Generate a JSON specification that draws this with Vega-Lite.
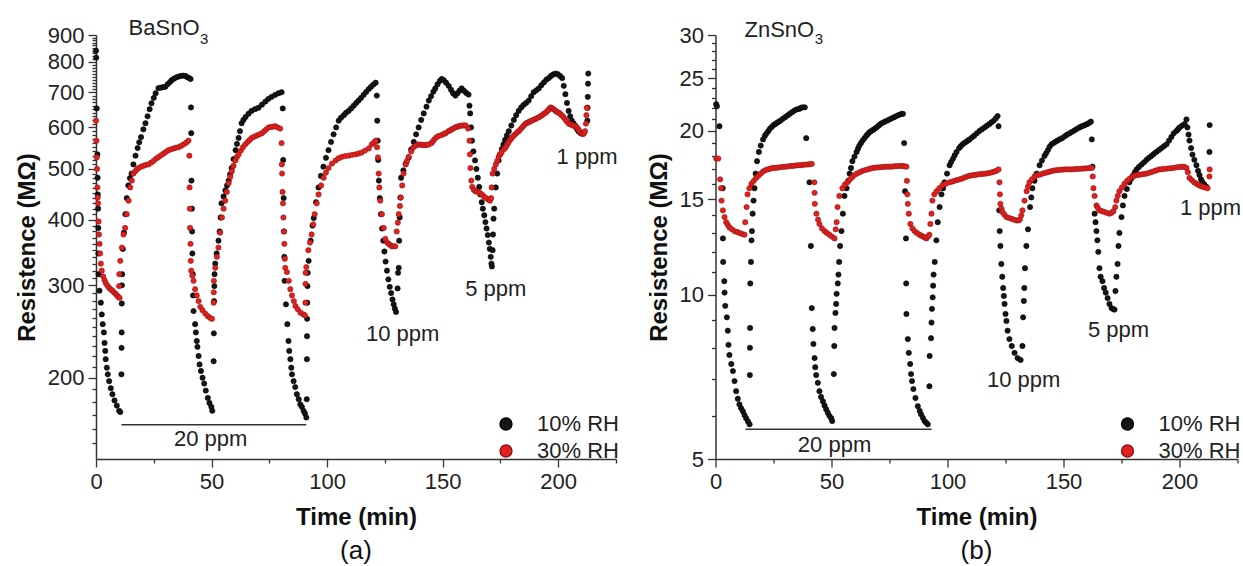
{
"$schema": "https://vega.github.io/schema/vega-lite/v6.json",
"background": "white",
"padding": {"left": 15, "top": 16, "right": 0, "bottom": 0},
"bounds": "flush",
"spacing": 99.5,
"datasets": {
"a": [
{"t":0,"r":840,"g":"10% RH"},{"t":0.1,"r":815,"g":"10% RH"},{"t":0.3,"r":652,"g":"10% RH"},{"t":0.6,"r":533,"g":"10% RH"},{"t":0.7,"r":481,"g":"10% RH"},{"t":0.8,"r":447,"g":"10% RH"},{"t":0.9,"r":420,"g":"10% RH"},{"t":1,"r":386,"g":"10% RH"},{"t":1.05,"r":345,"g":"10% RH"},{"t":1.1,"r":315,"g":"10% RH"},{"t":1.5,"r":293,"g":"10% RH"},{"t":2.1,"r":278,"g":"10% RH"},{"t":2.5,"r":264,"g":"10% RH"},{"t":2.9,"r":253,"g":"10% RH"},{"t":3.4,"r":244,"g":"10% RH"},{"t":3.7,"r":233,"g":"10% RH"},{"t":4,"r":225,"g":"10% RH"},{"t":4.2,"r":217,"g":"10% RH"},{"t":4.7,"r":209,"g":"10% RH"},{"t":5.1,"r":203,"g":"10% RH"},{"t":5.7,"r":197,"g":"10% RH"},{"t":6.4,"r":191,"g":"10% RH"},{"t":7.1,"r":186,"g":"10% RH"},{"t":8,"r":181,"g":"10% RH"},{"t":9,"r":177,"g":"10% RH"},{"t":10,"r":173,"g":"10% RH"},{"t":10.5,"r":172,"g":"10% RH"},
{"t":11,"r":203,"g":"10% RH"},{"t":11.05,"r":228,"g":"10% RH"},{"t":11.1,"r":244,"g":"10% RH"},{"t":11.15,"r":277,"g":"10% RH"},{"t":11.2,"r":300,"g":"10% RH"},{"t":11.3,"r":315,"g":"10% RH"},{"t":11.6,"r":352,"g":"10% RH"},{"t":12.1,"r":378,"g":"10% RH"},{"t":12.7,"r":410,"g":"10% RH"},{"t":13.3,"r":440,"g":"10% RH"},{"t":14,"r":465,"g":"10% RH"},{"t":14.7,"r":480,"g":"10% RH"},{"t":15.4,"r":490,"g":"10% RH"},{"t":16.2,"r":510,"g":"10% RH"},{"t":17.1,"r":530,"g":"10% RH"},{"t":18,"r":548,"g":"10% RH"},{"t":18.7,"r":562,"g":"10% RH"},{"t":19.5,"r":575,"g":"10% RH"},{"t":20.5,"r":595,"g":"10% RH"},{"t":21.4,"r":611,"g":"10% RH"},{"t":22.3,"r":630,"g":"10% RH"},{"t":23.2,"r":650,"g":"10% RH"},{"t":24,"r":667,"g":"10% RH"},{"t":25,"r":683,"g":"10% RH"},{"t":25.8,"r":697,"g":"10% RH"},{"t":27,"r":713,"g":"10% RH"},{"t":28,"r":714,"g":"10% RH"},{"t":29,"r":716,"g":"10% RH"},{"t":30,"r":717,"g":"10% RH"},{"t":31,"r":725,"g":"10% RH"},{"t":32,"r":732,"g":"10% RH"},{"t":32.7,"r":738,"g":"10% RH"},{"t":33.7,"r":743,"g":"10% RH"},{"t":34.7,"r":747,"g":"10% RH"},{"t":35.7,"r":750,"g":"10% RH"},{"t":36.7,"r":752,"g":"10% RH"},{"t":37.7,"r":753,"g":"10% RH"},{"t":38.7,"r":752,"g":"10% RH"},{"t":39.5,"r":748,"g":"10% RH"},{"t":40.3,"r":745,"g":"10% RH"},{"t":40.9,"r":742,"g":"10% RH"},
{"t":41.1,"r":655,"g":"10% RH"},{"t":41.2,"r":585,"g":"10% RH"},{"t":41.3,"r":475,"g":"10% RH"},{"t":41.5,"r":420,"g":"10% RH"},{"t":41.6,"r":380,"g":"10% RH"},{"t":41.7,"r":345,"g":"10% RH"},{"t":41.9,"r":315,"g":"10% RH"},{"t":42,"r":287,"g":"10% RH"},{"t":42.2,"r":268,"g":"10% RH"},{"t":42.9,"r":253,"g":"10% RH"},{"t":43.2,"r":244,"g":"10% RH"},{"t":43.6,"r":235,"g":"10% RH"},{"t":43.9,"r":229,"g":"10% RH"},{"t":44.4,"r":220,"g":"10% RH"},{"t":44.8,"r":212,"g":"10% RH"},{"t":45.4,"r":206,"g":"10% RH"},{"t":46.1,"r":200,"g":"10% RH"},{"t":46.8,"r":195,"g":"10% RH"},{"t":47.5,"r":189,"g":"10% RH"},{"t":48.4,"r":183,"g":"10% RH"},{"t":49.1,"r":179,"g":"10% RH"},{"t":49.9,"r":176,"g":"10% RH"},{"t":50.3,"r":173,"g":"10% RH"},
{"t":50.9,"r":215,"g":"10% RH"},{"t":51,"r":243,"g":"10% RH"},{"t":51.1,"r":280,"g":"10% RH"},{"t":51.2,"r":299,"g":"10% RH"},{"t":51.3,"r":315,"g":"10% RH"},{"t":51.6,"r":330,"g":"10% RH"},{"t":52.2,"r":345,"g":"10% RH"},{"t":53,"r":365,"g":"10% RH"},{"t":53.5,"r":380,"g":"10% RH"},{"t":53.9,"r":404,"g":"10% RH"},{"t":54.3,"r":430,"g":"10% RH"},{"t":55.2,"r":443,"g":"10% RH"},{"t":56,"r":455,"g":"10% RH"},{"t":56.7,"r":465,"g":"10% RH"},{"t":57.4,"r":475,"g":"10% RH"},{"t":58,"r":488,"g":"10% RH"},{"t":58.7,"r":502,"g":"10% RH"},{"t":59.5,"r":522,"g":"10% RH"},{"t":60.4,"r":543,"g":"10% RH"},{"t":61,"r":558,"g":"10% RH"},{"t":61.7,"r":573,"g":"10% RH"},{"t":62.3,"r":590,"g":"10% RH"},{"t":63,"r":611,"g":"10% RH"},{"t":63.8,"r":620,"g":"10% RH"},{"t":64.7,"r":628,"g":"10% RH"},{"t":66,"r":637,"g":"10% RH"},{"t":67.3,"r":645,"g":"10% RH"},{"t":68.8,"r":650,"g":"10% RH"},{"t":70.3,"r":654,"g":"10% RH"},{"t":71.8,"r":663,"g":"10% RH"},{"t":73.3,"r":672,"g":"10% RH"},{"t":74.6,"r":680,"g":"10% RH"},{"t":76,"r":686,"g":"10% RH"},{"t":77.5,"r":692,"g":"10% RH"},{"t":79,"r":697,"g":"10% RH"},{"t":80.3,"r":700,"g":"10% RH"},
{"t":80.8,"r":652,"g":"10% RH"},{"t":81,"r":520,"g":"10% RH"},{"t":81.2,"r":440,"g":"10% RH"},{"t":81.35,"r":380,"g":"10% RH"},{"t":81.5,"r":340,"g":"10% RH"},{"t":81.6,"r":306,"g":"10% RH"},{"t":82.2,"r":276,"g":"10% RH"},{"t":82.8,"r":253,"g":"10% RH"},{"t":83.3,"r":235,"g":"10% RH"},{"t":83.6,"r":225,"g":"10% RH"},{"t":84.1,"r":217,"g":"10% RH"},{"t":84.5,"r":209,"g":"10% RH"},{"t":84.8,"r":203,"g":"10% RH"},{"t":85.5,"r":197,"g":"10% RH"},{"t":86.2,"r":192,"g":"10% RH"},{"t":86.9,"r":186,"g":"10% RH"},{"t":87.7,"r":182,"g":"10% RH"},{"t":88.4,"r":178,"g":"10% RH"},{"t":89.1,"r":176,"g":"10% RH"},{"t":89.8,"r":173,"g":"10% RH"},{"t":90.4,"r":171,"g":"10% RH"},{"t":91,"r":168,"g":"10% RH"},
{"t":91.2,"r":182,"g":"10% RH"},{"t":91.25,"r":217,"g":"10% RH"},{"t":91.3,"r":240,"g":"10% RH"},{"t":91.35,"r":259,"g":"10% RH"},{"t":91.4,"r":278,"g":"10% RH"},{"t":91.5,"r":299,"g":"10% RH"},{"t":91.6,"r":317,"g":"10% RH"},{"t":92,"r":334,"g":"10% RH"},{"t":92.9,"r":365,"g":"10% RH"},{"t":93.7,"r":390,"g":"10% RH"},{"t":94.2,"r":403,"g":"10% RH"},{"t":95.2,"r":432,"g":"10% RH"},{"t":96.3,"r":461,"g":"10% RH"},{"t":97.3,"r":485,"g":"10% RH"},{"t":98.4,"r":505,"g":"10% RH"},{"t":99.5,"r":525,"g":"10% RH"},{"t":100.6,"r":543,"g":"10% RH"},{"t":101.7,"r":563,"g":"10% RH"},{"t":102.8,"r":582,"g":"10% RH"},{"t":103.9,"r":600,"g":"10% RH"},{"t":105,"r":618,"g":"10% RH"},{"t":106,"r":626,"g":"10% RH"},{"t":107.2,"r":633,"g":"10% RH"},{"t":108.2,"r":640,"g":"10% RH"},{"t":109.3,"r":645,"g":"10% RH"},{"t":110.4,"r":652,"g":"10% RH"},{"t":111.5,"r":660,"g":"10% RH"},{"t":112.6,"r":668,"g":"10% RH"},{"t":113.6,"r":675,"g":"10% RH"},{"t":114.7,"r":683,"g":"10% RH"},{"t":115.8,"r":692,"g":"10% RH"},{"t":116.9,"r":701,"g":"10% RH"},{"t":118,"r":710,"g":"10% RH"},{"t":119,"r":717,"g":"10% RH"},{"t":120,"r":724,"g":"10% RH"},{"t":121,"r":730,"g":"10% RH"},
{"t":121.5,"r":690,"g":"10% RH"},{"t":121.7,"r":618,"g":"10% RH"},{"t":121.9,"r":566,"g":"10% RH"},{"t":122.1,"r":520,"g":"10% RH"},{"t":122.4,"r":475,"g":"10% RH"},{"t":122.8,"r":440,"g":"10% RH"},{"t":123.3,"r":410,"g":"10% RH"},{"t":123.8,"r":385,"g":"10% RH"},{"t":124.3,"r":365,"g":"10% RH"},{"t":124.8,"r":348,"g":"10% RH"},{"t":125.3,"r":333,"g":"10% RH"},{"t":125.9,"r":320,"g":"10% RH"},{"t":126.5,"r":308,"g":"10% RH"},{"t":127.1,"r":298,"g":"10% RH"},{"t":127.7,"r":290,"g":"10% RH"},{"t":128.3,"r":282,"g":"10% RH"},{"t":128.8,"r":276,"g":"10% RH"},{"t":129.3,"r":271,"g":"10% RH"},{"t":129.8,"r":267,"g":"10% RH"},
{"t":130.5,"r":296,"g":"10% RH"},{"t":130.7,"r":317,"g":"10% RH"},{"t":131,"r":324,"g":"10% RH"},{"t":131.2,"r":365,"g":"10% RH"},{"t":131.4,"r":404,"g":"10% RH"},{"t":131.7,"r":441,"g":"10% RH"},{"t":132,"r":481,"g":"10% RH"},{"t":133,"r":497,"g":"10% RH"},{"t":134,"r":512,"g":"10% RH"},{"t":135.3,"r":526,"g":"10% RH"},{"t":136.4,"r":545,"g":"10% RH"},{"t":137.5,"r":563,"g":"10% RH"},{"t":138.5,"r":582,"g":"10% RH"},{"t":139.6,"r":600,"g":"10% RH"},{"t":140.7,"r":620,"g":"10% RH"},{"t":141.8,"r":638,"g":"10% RH"},{"t":143,"r":657,"g":"10% RH"},{"t":144,"r":675,"g":"10% RH"},{"t":145,"r":688,"g":"10% RH"},{"t":146,"r":702,"g":"10% RH"},{"t":146.8,"r":712,"g":"10% RH"},{"t":147.8,"r":725,"g":"10% RH"},{"t":148.8,"r":736,"g":"10% RH"},{"t":149.6,"r":742,"g":"10% RH"},{"t":150.5,"r":738,"g":"10% RH"},{"t":151.5,"r":730,"g":"10% RH"},{"t":152.6,"r":720,"g":"10% RH"},{"t":153.6,"r":708,"g":"10% RH"},{"t":154.5,"r":697,"g":"10% RH"},{"t":155.5,"r":690,"g":"10% RH"},{"t":156.4,"r":697,"g":"10% RH"},{"t":157.3,"r":705,"g":"10% RH"},{"t":158.2,"r":712,"g":"10% RH"},{"t":159.2,"r":705,"g":"10% RH"},{"t":160.2,"r":698,"g":"10% RH"},{"t":161.2,"r":693,"g":"10% RH"},
{"t":161.6,"r":660,"g":"10% RH"},{"t":161.9,"r":638,"g":"10% RH"},{"t":162.3,"r":600,"g":"10% RH"},{"t":162.7,"r":566,"g":"10% RH"},{"t":163.3,"r":540,"g":"10% RH"},{"t":164,"r":519,"g":"10% RH"},{"t":164.6,"r":500,"g":"10% RH"},{"t":165.2,"r":481,"g":"10% RH"},{"t":165.8,"r":462,"g":"10% RH"},{"t":166.3,"r":447,"g":"10% RH"},{"t":166.9,"r":432,"g":"10% RH"},{"t":167.4,"r":420,"g":"10% RH"},{"t":168,"r":408,"g":"10% RH"},{"t":168.5,"r":396,"g":"10% RH"},{"t":169,"r":385,"g":"10% RH"},{"t":169.5,"r":374,"g":"10% RH"},{"t":170,"r":362,"g":"10% RH"},{"t":170.4,"r":352,"g":"10% RH"},{"t":170.8,"r":340,"g":"10% RH"},{"t":171.1,"r":330,"g":"10% RH"},{"t":171.3,"r":326,"g":"10% RH"},
{"t":171.6,"r":350,"g":"10% RH"},{"t":171.8,"r":375,"g":"10% RH"},{"t":172,"r":402,"g":"10% RH"},{"t":172.3,"r":420,"g":"10% RH"},{"t":173,"r":461,"g":"10% RH"},{"t":173.6,"r":490,"g":"10% RH"},{"t":174.2,"r":519,"g":"10% RH"},{"t":174.9,"r":533,"g":"10% RH"},{"t":175.6,"r":546,"g":"10% RH"},{"t":176.3,"r":557,"g":"10% RH"},{"t":177,"r":568,"g":"10% RH"},{"t":177.8,"r":579,"g":"10% RH"},{"t":178.6,"r":590,"g":"10% RH"},{"t":179.7,"r":605,"g":"10% RH"},{"t":180.8,"r":620,"g":"10% RH"},{"t":181.8,"r":633,"g":"10% RH"},{"t":182.9,"r":645,"g":"10% RH"},{"t":184,"r":655,"g":"10% RH"},{"t":185,"r":662,"g":"10% RH"},{"t":186.1,"r":668,"g":"10% RH"},{"t":187.2,"r":675,"g":"10% RH"},{"t":188.3,"r":688,"g":"10% RH"},{"t":189.4,"r":700,"g":"10% RH"},{"t":190.5,"r":706,"g":"10% RH"},{"t":191.6,"r":712,"g":"10% RH"},{"t":192.7,"r":722,"g":"10% RH"},{"t":193.8,"r":731,"g":"10% RH"},{"t":194.9,"r":740,"g":"10% RH"},{"t":195.9,"r":745,"g":"10% RH"},{"t":196.9,"r":752,"g":"10% RH"},{"t":197.8,"r":757,"g":"10% RH"},{"t":198.8,"r":760,"g":"10% RH"},{"t":199.8,"r":758,"g":"10% RH"},{"t":200.8,"r":752,"g":"10% RH"},{"t":201.7,"r":745,"g":"10% RH"},{"t":202.4,"r":720,"g":"10% RH"},{"t":203.1,"r":694,"g":"10% RH"},{"t":203.8,"r":668,"g":"10% RH"},{"t":204.5,"r":645,"g":"10% RH"},{"t":205.2,"r":630,"g":"10% RH"},{"t":205.9,"r":618,"g":"10% RH"},{"t":206.6,"r":611,"g":"10% RH"},{"t":207.3,"r":605,"g":"10% RH"},{"t":208,"r":597,"g":"10% RH"},{"t":208.7,"r":590,"g":"10% RH"},{"t":209.4,"r":587,"g":"10% RH"},{"t":210,"r":585,"g":"10% RH"},{"t":210.8,"r":584,"g":"10% RH"},{"t":212.6,"r":618,"g":"10% RH"},{"t":212.7,"r":654,"g":"10% RH"},{"t":212.8,"r":686,"g":"10% RH"},{"t":212.9,"r":727,"g":"10% RH"},{"t":213,"r":760,"g":"10% RH"},
{"t":0,"r":618,"g":"30% RH"},{"t":0.15,"r":566,"g":"30% RH"},{"t":0.3,"r":526,"g":"30% RH"},{"t":0.45,"r":500,"g":"30% RH"},{"t":0.6,"r":461,"g":"30% RH"},{"t":0.75,"r":441,"g":"30% RH"},{"t":0.9,"r":430,"g":"30% RH"},{"t":1.1,"r":397,"g":"30% RH"},{"t":1.3,"r":375,"g":"30% RH"},{"t":1.55,"r":360,"g":"30% RH"},{"t":1.8,"r":345,"g":"30% RH"},{"t":2.1,"r":330,"g":"30% RH"},{"t":2.5,"r":320,"g":"30% RH"},{"t":3.1,"r":312,"g":"30% RH"},{"t":3.7,"r":307,"g":"30% RH"},{"t":4.2,"r":303,"g":"30% RH"},{"t":4.9,"r":300,"g":"30% RH"},{"t":5.6,"r":297,"g":"30% RH"},{"t":6.3,"r":295,"g":"30% RH"},{"t":7.1,"r":293,"g":"30% RH"},{"t":7.8,"r":291,"g":"30% RH"},{"t":8.5,"r":289,"g":"30% RH"},{"t":9.1,"r":287,"g":"30% RH"},{"t":9.7,"r":285,"g":"30% RH"},{"t":10.2,"r":284,"g":"30% RH"},
{"t":10,"r":299,"g":"30% RH"},{"t":10.1,"r":315,"g":"30% RH"},{"t":10.5,"r":334,"g":"30% RH"},{"t":11.2,"r":354,"g":"30% RH"},{"t":11.9,"r":375,"g":"30% RH"},{"t":12.6,"r":386,"g":"30% RH"},{"t":13.3,"r":410,"g":"30% RH"},{"t":14.1,"r":435,"g":"30% RH"},{"t":14.8,"r":461,"g":"30% RH"},{"t":15.5,"r":475,"g":"30% RH"},{"t":16.2,"r":490,"g":"30% RH"},{"t":17,"r":495,"g":"30% RH"},{"t":17.7,"r":499,"g":"30% RH"},{"t":18.4,"r":502,"g":"30% RH"},{"t":19.5,"r":505,"g":"30% RH"},{"t":20.6,"r":507,"g":"30% RH"},{"t":21.6,"r":509,"g":"30% RH"},{"t":22.7,"r":510,"g":"30% RH"},{"t":23.8,"r":514,"g":"30% RH"},{"t":24.9,"r":518,"g":"30% RH"},{"t":26,"r":523,"g":"30% RH"},{"t":27.1,"r":527,"g":"30% RH"},{"t":28.2,"r":531,"g":"30% RH"},{"t":29.3,"r":535,"g":"30% RH"},{"t":30.3,"r":539,"g":"30% RH"},{"t":31.4,"r":543,"g":"30% RH"},{"t":32.5,"r":545,"g":"30% RH"},{"t":33.6,"r":547,"g":"30% RH"},{"t":34.6,"r":549,"g":"30% RH"},{"t":35.7,"r":550,"g":"30% RH"},{"t":36.8,"r":553,"g":"30% RH"},{"t":37.9,"r":557,"g":"30% RH"},{"t":39,"r":561,"g":"30% RH"},{"t":40,"r":566,"g":"30% RH"},
{"t":40.4,"r":530,"g":"30% RH"},{"t":40.5,"r":461,"g":"30% RH"},{"t":40.6,"r":420,"g":"30% RH"},{"t":40.7,"r":386,"g":"30% RH"},{"t":40.9,"r":360,"g":"30% RH"},{"t":41,"r":334,"g":"30% RH"},{"t":41.2,"r":320,"g":"30% RH"},{"t":41.7,"r":313,"g":"30% RH"},{"t":42.2,"r":306,"g":"30% RH"},{"t":42.9,"r":295,"g":"30% RH"},{"t":43.6,"r":287,"g":"30% RH"},{"t":44.4,"r":280,"g":"30% RH"},{"t":45.1,"r":273,"g":"30% RH"},{"t":46.1,"r":269,"g":"30% RH"},{"t":47.3,"r":265,"g":"30% RH"},{"t":48.4,"r":262,"g":"30% RH"},{"t":49.4,"r":260,"g":"30% RH"},{"t":50.2,"r":259,"g":"30% RH"},
{"t":50.9,"r":278,"g":"30% RH"},{"t":50.95,"r":291,"g":"30% RH"},{"t":51,"r":306,"g":"30% RH"},{"t":51.6,"r":324,"g":"30% RH"},{"t":52.3,"r":340,"g":"30% RH"},{"t":53,"r":354,"g":"30% RH"},{"t":53.7,"r":378,"g":"30% RH"},{"t":54.5,"r":404,"g":"30% RH"},{"t":55.2,"r":420,"g":"30% RH"},{"t":55.9,"r":435,"g":"30% RH"},{"t":56.6,"r":452,"g":"30% RH"},{"t":57.4,"r":470,"g":"30% RH"},{"t":58.1,"r":483,"g":"30% RH"},{"t":58.8,"r":495,"g":"30% RH"},{"t":59.5,"r":507,"g":"30% RH"},{"t":60.3,"r":519,"g":"30% RH"},{"t":61,"r":527,"g":"30% RH"},{"t":61.7,"r":533,"g":"30% RH"},{"t":62.7,"r":542,"g":"30% RH"},{"t":63.6,"r":550,"g":"30% RH"},{"t":64.6,"r":557,"g":"30% RH"},{"t":65.6,"r":563,"g":"30% RH"},{"t":66.5,"r":568,"g":"30% RH"},{"t":67.4,"r":573,"g":"30% RH"},{"t":68.5,"r":576,"g":"30% RH"},{"t":69.6,"r":579,"g":"30% RH"},{"t":70.7,"r":582,"g":"30% RH"},{"t":71.8,"r":585,"g":"30% RH"},{"t":72.8,"r":590,"g":"30% RH"},{"t":73.7,"r":595,"g":"30% RH"},{"t":74.7,"r":600,"g":"30% RH"},{"t":75.7,"r":601,"g":"30% RH"},{"t":76.6,"r":602,"g":"30% RH"},{"t":77.6,"r":603,"g":"30% RH"},{"t":78.6,"r":600,"g":"30% RH"},{"t":79.7,"r":597,"g":"30% RH"},
{"t":80.3,"r":560,"g":"30% RH"},{"t":80.4,"r":510,"g":"30% RH"},{"t":80.5,"r":490,"g":"30% RH"},{"t":80.7,"r":452,"g":"30% RH"},{"t":80.9,"r":430,"g":"30% RH"},{"t":81.1,"r":404,"g":"30% RH"},{"t":81.3,"r":380,"g":"30% RH"},{"t":81.5,"r":360,"g":"30% RH"},{"t":81.7,"r":337,"g":"30% RH"},{"t":81.9,"r":324,"g":"30% RH"},{"t":82.6,"r":318,"g":"30% RH"},{"t":83.4,"r":306,"g":"30% RH"},{"t":84.1,"r":295,"g":"30% RH"},{"t":84.8,"r":287,"g":"30% RH"},{"t":85.6,"r":280,"g":"30% RH"},{"t":86.3,"r":274,"g":"30% RH"},{"t":87.3,"r":270,"g":"30% RH"},{"t":88.5,"r":266,"g":"30% RH"},{"t":89.8,"r":264,"g":"30% RH"},{"t":90.4,"r":263,"g":"30% RH"},
{"t":90.6,"r":278,"g":"30% RH"},{"t":90.65,"r":302,"g":"30% RH"},{"t":90.7,"r":317,"g":"30% RH"},{"t":91,"r":325,"g":"30% RH"},{"t":91.9,"r":350,"g":"30% RH"},{"t":92.6,"r":362,"g":"30% RH"},{"t":93.3,"r":375,"g":"30% RH"},{"t":94,"r":392,"g":"30% RH"},{"t":94.6,"r":410,"g":"30% RH"},{"t":95.5,"r":430,"g":"30% RH"},{"t":96.3,"r":447,"g":"30% RH"},{"t":97.4,"r":465,"g":"30% RH"},{"t":98.5,"r":481,"g":"30% RH"},{"t":99.5,"r":492,"g":"30% RH"},{"t":100.6,"r":502,"g":"30% RH"},{"t":102.1,"r":512,"g":"30% RH"},{"t":103.7,"r":519,"g":"30% RH"},{"t":105,"r":524,"g":"30% RH"},{"t":106.3,"r":527,"g":"30% RH"},{"t":107.8,"r":529,"g":"30% RH"},{"t":109.3,"r":530,"g":"30% RH"},{"t":110.8,"r":532,"g":"30% RH"},{"t":112.3,"r":533,"g":"30% RH"},{"t":113.6,"r":535,"g":"30% RH"},{"t":114.9,"r":537,"g":"30% RH"},{"t":116.4,"r":542,"g":"30% RH"},{"t":118,"r":547,"g":"30% RH"},{"t":119.3,"r":557,"g":"30% RH"},{"t":120.3,"r":562,"g":"30% RH"},{"t":121,"r":566,"g":"30% RH"},
{"t":121.6,"r":550,"g":"30% RH"},{"t":122,"r":526,"g":"30% RH"},{"t":122.3,"r":490,"g":"30% RH"},{"t":122.6,"r":461,"g":"30% RH"},{"t":123,"r":435,"g":"30% RH"},{"t":123.7,"r":410,"g":"30% RH"},{"t":124.5,"r":386,"g":"30% RH"},{"t":125.2,"r":368,"g":"30% RH"},{"t":126,"r":362,"g":"30% RH"},{"t":126.6,"r":360,"g":"30% RH"},{"t":127.3,"r":358,"g":"30% RH"},{"t":128,"r":356,"g":"30% RH"},{"t":128.8,"r":356,"g":"30% RH"},{"t":129.5,"r":356,"g":"30% RH"},
{"t":130.1,"r":380,"g":"30% RH"},{"t":130.6,"r":395,"g":"30% RH"},{"t":131,"r":410,"g":"30% RH"},{"t":131.5,"r":425,"g":"30% RH"},{"t":131.9,"r":441,"g":"30% RH"},{"t":132.5,"r":465,"g":"30% RH"},{"t":133.1,"r":490,"g":"30% RH"},{"t":134,"r":510,"g":"30% RH"},{"t":134.6,"r":518,"g":"30% RH"},{"t":135.3,"r":527,"g":"30% RH"},{"t":136.4,"r":540,"g":"30% RH"},{"t":137.4,"r":550,"g":"30% RH"},{"t":138.5,"r":554,"g":"30% RH"},{"t":139.6,"r":557,"g":"30% RH"},{"t":140.3,"r":556,"g":"30% RH"},{"t":141,"r":556,"g":"30% RH"},{"t":141.8,"r":555,"g":"30% RH"},{"t":142.6,"r":555,"g":"30% RH"},{"t":143.3,"r":556,"g":"30% RH"},{"t":144,"r":557,"g":"30% RH"},{"t":145.2,"r":560,"g":"30% RH"},{"t":145.8,"r":565,"g":"30% RH"},{"t":146.5,"r":570,"g":"30% RH"},{"t":147.4,"r":575,"g":"30% RH"},{"t":148.3,"r":578,"g":"30% RH"},{"t":149.5,"r":580,"g":"30% RH"},{"t":150.5,"r":583,"g":"30% RH"},{"t":151.3,"r":585,"g":"30% RH"},{"t":152.5,"r":590,"g":"30% RH"},{"t":153.2,"r":592,"g":"30% RH"},{"t":153.9,"r":595,"g":"30% RH"},{"t":154.6,"r":597,"g":"30% RH"},{"t":155.4,"r":600,"g":"30% RH"},{"t":156.1,"r":601,"g":"30% RH"},{"t":156.9,"r":603,"g":"30% RH"},{"t":157.6,"r":604,"g":"30% RH"},{"t":158.4,"r":605,"g":"30% RH"},{"t":159.2,"r":605,"g":"30% RH"},{"t":160,"r":605,"g":"30% RH"},{"t":161,"r":597,"g":"30% RH"},
{"t":161.6,"r":566,"g":"30% RH"},{"t":161.8,"r":533,"g":"30% RH"},{"t":162,"r":502,"g":"30% RH"},{"t":162.4,"r":475,"g":"30% RH"},{"t":162.8,"r":462,"g":"30% RH"},{"t":163.5,"r":456,"g":"30% RH"},{"t":164.3,"r":453,"g":"30% RH"},{"t":165.2,"r":452,"g":"30% RH"},{"t":166.1,"r":450,"g":"30% RH"},{"t":167,"r":447,"g":"30% RH"},{"t":167.9,"r":443,"g":"30% RH"},{"t":168.8,"r":440,"g":"30% RH"},{"t":169.7,"r":437,"g":"30% RH"},{"t":170.5,"r":435,"g":"30% RH"},
{"t":171,"r":440,"g":"30% RH"},{"t":171.2,"r":461,"g":"30% RH"},{"t":171.6,"r":490,"g":"30% RH"},{"t":172.3,"r":500,"g":"30% RH"},{"t":173,"r":510,"g":"30% RH"},{"t":173.6,"r":518,"g":"30% RH"},{"t":174.2,"r":527,"g":"30% RH"},{"t":174.8,"r":533,"g":"30% RH"},{"t":175.5,"r":538,"g":"30% RH"},{"t":176.5,"r":545,"g":"30% RH"},{"t":177.3,"r":550,"g":"30% RH"},{"t":177.9,"r":556,"g":"30% RH"},{"t":178.5,"r":562,"g":"30% RH"},{"t":179.2,"r":568,"g":"30% RH"},{"t":179.9,"r":573,"g":"30% RH"},{"t":180.6,"r":578,"g":"30% RH"},{"t":181.4,"r":582,"g":"30% RH"},{"t":182.1,"r":586,"g":"30% RH"},{"t":182.9,"r":590,"g":"30% RH"},{"t":183.6,"r":595,"g":"30% RH"},{"t":184.4,"r":600,"g":"30% RH"},{"t":185.1,"r":605,"g":"30% RH"},{"t":185.9,"r":610,"g":"30% RH"},{"t":186.5,"r":612,"g":"30% RH"},{"t":187.2,"r":614,"g":"30% RH"},{"t":187.8,"r":616,"g":"30% RH"},{"t":188.5,"r":618,"g":"30% RH"},{"t":189.2,"r":620,"g":"30% RH"},{"t":190,"r":622,"g":"30% RH"},{"t":190.8,"r":625,"g":"30% RH"},{"t":191.6,"r":627,"g":"30% RH"},{"t":192.3,"r":630,"g":"30% RH"},{"t":193,"r":633,"g":"30% RH"},{"t":193.8,"r":637,"g":"30% RH"},{"t":194.6,"r":640,"g":"30% RH"},{"t":195.2,"r":644,"g":"30% RH"},{"t":195.8,"r":648,"g":"30% RH"},{"t":196.3,"r":652,"g":"30% RH"},{"t":196.8,"r":655,"g":"30% RH"},{"t":197.4,"r":652,"g":"30% RH"},{"t":197.9,"r":650,"g":"30% RH"},{"t":198.4,"r":648,"g":"30% RH"},{"t":198.9,"r":645,"g":"30% RH"},{"t":199.5,"r":642,"g":"30% RH"},{"t":200.2,"r":640,"g":"30% RH"},{"t":200.8,"r":637,"g":"30% RH"},{"t":201.5,"r":633,"g":"30% RH"},{"t":202.2,"r":628,"g":"30% RH"},{"t":203,"r":622,"g":"30% RH"},{"t":203.7,"r":616,"g":"30% RH"},{"t":204.5,"r":610,"g":"30% RH"},{"t":205.2,"r":608,"g":"30% RH"},{"t":206,"r":606,"g":"30% RH"},{"t":206.8,"r":604,"g":"30% RH"},{"t":207.6,"r":603,"g":"30% RH"},{"t":208.2,"r":599,"g":"30% RH"},{"t":208.7,"r":595,"g":"30% RH"},{"t":209.2,"r":590,"g":"30% RH"},{"t":209.7,"r":585,"g":"30% RH"},{"t":210.2,"r":584,"g":"30% RH"},{"t":210.6,"r":583,"g":"30% RH"},{"t":211.1,"r":584,"g":"30% RH"},{"t":211.6,"r":590,"g":"30% RH"},{"t":212,"r":610,"g":"30% RH"},{"t":212.2,"r":633,"g":"30% RH"},{"t":212.4,"r":654,"g":"30% RH"}
],
"b": [
{"t":0.3,"r":22.4,"g":"10% RH"},{"t":0.6,"r":22.2,"g":"10% RH"},{"t":1.7,"r":20.4,"g":"10% RH"},{"t":3.1,"r":15.7,"g":"10% RH"},{"t":3.2,"r":12.7,"g":"10% RH"},{"t":3.3,"r":11.5,"g":"10% RH"},{"t":3.8,"r":10.6,"g":"10% RH"},{"t":3.9,"r":10.1,"g":"10% RH"},{"t":4.2,"r":9.55,"g":"10% RH"},{"t":4.9,"r":9.1,"g":"10% RH"},{"t":5.3,"r":8.6,"g":"10% RH"},{"t":5.6,"r":8.1,"g":"10% RH"},{"t":6,"r":7.76,"g":"10% RH"},{"t":6.8,"r":7.47,"g":"10% RH"},{"t":7.5,"r":7.25,"g":"10% RH"},{"t":8.2,"r":6.95,"g":"10% RH"},{"t":8.9,"r":6.66,"g":"10% RH"},{"t":9.6,"r":6.45,"g":"10% RH"},{"t":10.3,"r":6.3,"g":"10% RH"},{"t":11,"r":6.2,"g":"10% RH"},{"t":11.8,"r":6.12,"g":"10% RH"},{"t":12.5,"r":6.02,"g":"10% RH"},{"t":13.2,"r":5.94,"g":"10% RH"},{"t":14,"r":5.86,"g":"10% RH"},{"t":14.7,"r":5.79,"g":"10% RH"},
{"t":14.8,"r":7.13,"g":"10% RH"},{"t":14.85,"r":8,"g":"10% RH"},{"t":14.9,"r":8.7,"g":"10% RH"},{"t":15,"r":10.5,"g":"10% RH"},{"t":15.3,"r":11.5,"g":"10% RH"},{"t":15.5,"r":12.6,"g":"10% RH"},{"t":15.7,"r":13.1,"g":"10% RH"},{"t":16,"r":14.1,"g":"10% RH"},{"t":16.4,"r":14.9,"g":"10% RH"},{"t":16.8,"r":15.7,"g":"10% RH"},{"t":17.3,"r":16.7,"g":"10% RH"},{"t":17.9,"r":17.6,"g":"10% RH"},{"t":18.7,"r":18.3,"g":"10% RH"},{"t":19.5,"r":18.8,"g":"10% RH"},{"t":20.5,"r":19.3,"g":"10% RH"},{"t":21.3,"r":19.6,"g":"10% RH"},{"t":22,"r":19.8,"g":"10% RH"},{"t":22.8,"r":20,"g":"10% RH"},{"t":23.5,"r":20.2,"g":"10% RH"},{"t":24.3,"r":20.35,"g":"10% RH"},{"t":25,"r":20.5,"g":"10% RH"},{"t":25.8,"r":20.6,"g":"10% RH"},{"t":26.5,"r":20.7,"g":"10% RH"},{"t":27.3,"r":20.8,"g":"10% RH"},{"t":28,"r":20.9,"g":"10% RH"},{"t":29,"r":21.05,"g":"10% RH"},{"t":30,"r":21.2,"g":"10% RH"},{"t":31,"r":21.35,"g":"10% RH"},{"t":32,"r":21.5,"g":"10% RH"},{"t":33,"r":21.65,"g":"10% RH"},{"t":34,"r":21.8,"g":"10% RH"},{"t":35,"r":21.9,"g":"10% RH"},{"t":36,"r":21.95,"g":"10% RH"},{"t":36.8,"r":22.05,"g":"10% RH"},{"t":37.5,"r":22.1,"g":"10% RH"},
{"t":38.5,"r":22.1,"g":"10% RH"},{"t":39.1,"r":19.4,"g":"10% RH"},{"t":40.5,"r":16.1,"g":"10% RH"},{"t":41.1,"r":12.3,"g":"10% RH"},{"t":41.5,"r":9.46,"g":"10% RH"},{"t":41.9,"r":8.66,"g":"10% RH"},{"t":42.2,"r":8.13,"g":"10% RH"},{"t":42.7,"r":7.66,"g":"10% RH"},{"t":43,"r":7.37,"g":"10% RH"},{"t":43.4,"r":7.13,"g":"10% RH"},{"t":44.1,"r":6.9,"g":"10% RH"},{"t":44.8,"r":6.66,"g":"10% RH"},{"t":45.5,"r":6.5,"g":"10% RH"},{"t":46.3,"r":6.38,"g":"10% RH"},{"t":47,"r":6.27,"g":"10% RH"},{"t":47.7,"r":6.17,"g":"10% RH"},{"t":48.4,"r":6.08,"g":"10% RH"},{"t":49.1,"r":6,"g":"10% RH"},{"t":49.9,"r":5.94,"g":"10% RH"},{"t":50.3,"r":5.87,"g":"10% RH"},
{"t":51,"r":7.16,"g":"10% RH"},{"t":51.2,"r":8.06,"g":"10% RH"},{"t":51.3,"r":8.7,"g":"10% RH"},{"t":51.7,"r":9.27,"g":"10% RH"},{"t":52,"r":9.63,"g":"10% RH"},{"t":52.2,"r":10.05,"g":"10% RH"},{"t":52.7,"r":10.5,"g":"10% RH"},{"t":53,"r":10.9,"g":"10% RH"},{"t":53.3,"r":11.5,"g":"10% RH"},{"t":53.7,"r":12.3,"g":"10% RH"},{"t":54.3,"r":13.1,"g":"10% RH"},{"t":54.9,"r":14.1,"g":"10% RH"},{"t":55.6,"r":15.2,"g":"10% RH"},{"t":56.5,"r":15.7,"g":"10% RH"},{"t":57.2,"r":16.2,"g":"10% RH"},{"t":57.8,"r":16.7,"g":"10% RH"},{"t":58.4,"r":17.1,"g":"10% RH"},{"t":59,"r":17.6,"g":"10% RH"},{"t":59.9,"r":17.95,"g":"10% RH"},{"t":60.8,"r":18.3,"g":"10% RH"},{"t":61.4,"r":18.55,"g":"10% RH"},{"t":62,"r":18.8,"g":"10% RH"},{"t":62.7,"r":19,"g":"10% RH"},{"t":63.4,"r":19.2,"g":"10% RH"},{"t":64.2,"r":19.4,"g":"10% RH"},{"t":65,"r":19.6,"g":"10% RH"},{"t":65.7,"r":19.75,"g":"10% RH"},{"t":66.4,"r":19.9,"g":"10% RH"},{"t":67.2,"r":20,"g":"10% RH"},{"t":68,"r":20.1,"g":"10% RH"},{"t":68.7,"r":20.2,"g":"10% RH"},{"t":69.4,"r":20.3,"g":"10% RH"},{"t":70.3,"r":20.45,"g":"10% RH"},{"t":71.1,"r":20.6,"g":"10% RH"},{"t":72,"r":20.7,"g":"10% RH"},{"t":73,"r":20.8,"g":"10% RH"},{"t":74,"r":20.9,"g":"10% RH"},{"t":75,"r":21,"g":"10% RH"},{"t":76,"r":21.1,"g":"10% RH"},{"t":77,"r":21.2,"g":"10% RH"},{"t":78,"r":21.3,"g":"10% RH"},{"t":79,"r":21.4,"g":"10% RH"},{"t":80.2,"r":21.5,"g":"10% RH"},
{"t":80.8,"r":21.5,"g":"10% RH"},{"t":81.3,"r":19,"g":"10% RH"},{"t":81.7,"r":15.5,"g":"10% RH"},{"t":82.1,"r":12.7,"g":"10% RH"},{"t":82.2,"r":10.5,"g":"10% RH"},{"t":82.3,"r":9.23,"g":"10% RH"},{"t":82.9,"r":8.3,"g":"10% RH"},{"t":83.3,"r":7.83,"g":"10% RH"},{"t":83.9,"r":7.47,"g":"10% RH"},{"t":84.3,"r":7.16,"g":"10% RH"},{"t":84.7,"r":6.95,"g":"10% RH"},{"t":85.3,"r":6.72,"g":"10% RH"},{"t":86.2,"r":6.47,"g":"10% RH"},{"t":87.2,"r":6.25,"g":"10% RH"},{"t":88,"r":6.13,"g":"10% RH"},{"t":88.6,"r":6.04,"g":"10% RH"},{"t":89.4,"r":5.95,"g":"10% RH"},{"t":90.1,"r":5.87,"g":"10% RH"},{"t":90.8,"r":5.83,"g":"10% RH"},{"t":91.5,"r":5.79,"g":"10% RH"},
{"t":92.2,"r":6.8,"g":"10% RH"},{"t":92.3,"r":7.73,"g":"10% RH"},{"t":92.9,"r":8.33,"g":"10% RH"},{"t":93.1,"r":8.9,"g":"10% RH"},{"t":93.3,"r":9.43,"g":"10% RH"},{"t":93.6,"r":9.9,"g":"10% RH"},{"t":93.8,"r":10.4,"g":"10% RH"},{"t":94,"r":10.9,"g":"10% RH"},{"t":94.5,"r":11.5,"g":"10% RH"},{"t":95.2,"r":12.6,"g":"10% RH"},{"t":95.8,"r":13.6,"g":"10% RH"},{"t":96.6,"r":14.5,"g":"10% RH"},{"t":97.4,"r":15.3,"g":"10% RH"},{"t":98.1,"r":15.7,"g":"10% RH"},{"t":98.7,"r":16.1,"g":"10% RH"},{"t":99.8,"r":16.7,"g":"10% RH"},{"t":100.9,"r":17.3,"g":"10% RH"},{"t":101.6,"r":17.55,"g":"10% RH"},{"t":102.4,"r":17.8,"g":"10% RH"},{"t":103.1,"r":18.05,"g":"10% RH"},{"t":103.9,"r":18.3,"g":"10% RH"},{"t":105,"r":18.6,"g":"10% RH"},{"t":105.7,"r":18.75,"g":"10% RH"},{"t":106.5,"r":18.9,"g":"10% RH"},{"t":107.2,"r":19,"g":"10% RH"},{"t":108,"r":19.1,"g":"10% RH"},{"t":108.8,"r":19.2,"g":"10% RH"},{"t":109.5,"r":19.3,"g":"10% RH"},{"t":110.5,"r":19.45,"g":"10% RH"},{"t":111.5,"r":19.6,"g":"10% RH"},{"t":112.6,"r":19.8,"g":"10% RH"},{"t":113.8,"r":20,"g":"10% RH"},{"t":114.9,"r":20.15,"g":"10% RH"},{"t":116,"r":20.3,"g":"10% RH"},{"t":117,"r":20.45,"g":"10% RH"},{"t":118.1,"r":20.6,"g":"10% RH"},{"t":119,"r":20.75,"g":"10% RH"},{"t":120,"r":20.9,"g":"10% RH"},{"t":120.8,"r":21.1,"g":"10% RH"},{"t":121.6,"r":21.3,"g":"10% RH"},
{"t":122,"r":20.4,"g":"10% RH"},{"t":122.3,"r":14.3,"g":"10% RH"},{"t":122.5,"r":13.1,"g":"10% RH"},{"t":122.8,"r":12.3,"g":"10% RH"},{"t":123.2,"r":11.4,"g":"10% RH"},{"t":123.6,"r":10.8,"g":"10% RH"},{"t":124,"r":10.3,"g":"10% RH"},{"t":124.3,"r":9.96,"g":"10% RH"},{"t":124.6,"r":9.63,"g":"10% RH"},{"t":125,"r":9.23,"g":"10% RH"},{"t":125.4,"r":8.96,"g":"10% RH"},{"t":125.9,"r":8.6,"g":"10% RH"},{"t":126.7,"r":8.3,"g":"10% RH"},{"t":127.7,"r":8.06,"g":"10% RH"},{"t":128.9,"r":7.83,"g":"10% RH"},{"t":130.2,"r":7.66,"g":"10% RH"},{"t":131.5,"r":7.6,"g":"10% RH"},
{"t":132.3,"r":8.06,"g":"10% RH"},{"t":132.6,"r":9.1,"g":"10% RH"},{"t":132.9,"r":9.75,"g":"10% RH"},{"t":133.1,"r":10.3,"g":"10% RH"},{"t":133.4,"r":11.2,"g":"10% RH"},{"t":134,"r":12.3,"g":"10% RH"},{"t":134.7,"r":13.2,"g":"10% RH"},{"t":135.6,"r":14.5,"g":"10% RH"},{"t":136.1,"r":15.1,"g":"10% RH"},{"t":136.6,"r":15.7,"g":"10% RH"},{"t":137.5,"r":16.2,"g":"10% RH"},{"t":138.4,"r":16.7,"g":"10% RH"},{"t":139.7,"r":17.3,"g":"10% RH"},{"t":140.7,"r":17.65,"g":"10% RH"},{"t":141.8,"r":18,"g":"10% RH"},{"t":142.5,"r":18.2,"g":"10% RH"},{"t":143.3,"r":18.45,"g":"10% RH"},{"t":144,"r":18.7,"g":"10% RH"},{"t":144.8,"r":18.9,"g":"10% RH"},{"t":145.6,"r":19,"g":"10% RH"},{"t":146.5,"r":19.1,"g":"10% RH"},{"t":147.4,"r":19.2,"g":"10% RH"},{"t":148.3,"r":19.3,"g":"10% RH"},{"t":149.4,"r":19.4,"g":"10% RH"},{"t":150.5,"r":19.55,"g":"10% RH"},{"t":151.5,"r":19.68,"g":"10% RH"},{"t":152.6,"r":19.8,"g":"10% RH"},{"t":153.7,"r":19.93,"g":"10% RH"},{"t":154.8,"r":20.05,"g":"10% RH"},{"t":155.8,"r":20.18,"g":"10% RH"},{"t":156.9,"r":20.3,"g":"10% RH"},{"t":157.7,"r":20.38,"g":"10% RH"},{"t":158.6,"r":20.45,"g":"10% RH"},{"t":159.5,"r":20.53,"g":"10% RH"},{"t":160.3,"r":20.6,"g":"10% RH"},{"t":161.1,"r":20.7,"g":"10% RH"},{"t":161.8,"r":20.8,"g":"10% RH"},
{"t":162.2,"r":19.3,"g":"10% RH"},{"t":162.5,"r":17.2,"g":"10% RH"},{"t":163.4,"r":14.1,"g":"10% RH"},{"t":163.8,"r":13.6,"g":"10% RH"},{"t":164.2,"r":13.1,"g":"10% RH"},{"t":164.6,"r":12.6,"g":"10% RH"},{"t":165,"r":12,"g":"10% RH"},{"t":165.5,"r":11.2,"g":"10% RH"},{"t":166,"r":10.8,"g":"10% RH"},{"t":166.8,"r":10.6,"g":"10% RH"},{"t":167.5,"r":10.3,"g":"10% RH"},{"t":168.2,"r":10.1,"g":"10% RH"},{"t":169,"r":9.87,"g":"10% RH"},{"t":169.8,"r":9.63,"g":"10% RH"},{"t":170.7,"r":9.46,"g":"10% RH"},{"t":171.5,"r":9.42,"g":"10% RH"},{"t":172,"r":9.4,"g":"10% RH"},
{"t":172.4,"r":10.17,"g":"10% RH"},{"t":172.8,"r":10.8,"g":"10% RH"},{"t":173.3,"r":11.4,"g":"10% RH"},{"t":173.7,"r":12.3,"g":"10% RH"},{"t":174.1,"r":13,"g":"10% RH"},{"t":175,"r":13.9,"g":"10% RH"},{"t":175.6,"r":14.6,"g":"10% RH"},{"t":176.3,"r":15.2,"g":"10% RH"},{"t":177.3,"r":15.65,"g":"10% RH"},{"t":178.4,"r":16.1,"g":"10% RH"},{"t":179.2,"r":16.35,"g":"10% RH"},{"t":179.9,"r":16.55,"g":"10% RH"},{"t":180.7,"r":16.78,"g":"10% RH"},{"t":181.5,"r":17,"g":"10% RH"},{"t":182.5,"r":17.18,"g":"10% RH"},{"t":183.6,"r":17.35,"g":"10% RH"},{"t":184.7,"r":17.52,"g":"10% RH"},{"t":185.8,"r":17.7,"g":"10% RH"},{"t":186.8,"r":17.85,"g":"10% RH"},{"t":187.9,"r":18,"g":"10% RH"},{"t":188.9,"r":18.15,"g":"10% RH"},{"t":190,"r":18.3,"g":"10% RH"},{"t":191.1,"r":18.45,"g":"10% RH"},{"t":192.2,"r":18.6,"g":"10% RH"},{"t":193.3,"r":18.75,"g":"10% RH"},{"t":194.4,"r":18.9,"g":"10% RH"},{"t":195.5,"r":19.2,"g":"10% RH"},{"t":196.5,"r":19.5,"g":"10% RH"},{"t":197.5,"r":19.8,"g":"10% RH"},{"t":198.7,"r":20,"g":"10% RH"},{"t":199.4,"r":20.15,"g":"10% RH"},{"t":200,"r":20.3,"g":"10% RH"},{"t":201.1,"r":20.45,"g":"10% RH"},{"t":202.2,"r":20.6,"g":"10% RH"},{"t":203,"r":21,"g":"10% RH"},{"t":203.4,"r":20.3,"g":"10% RH"},{"t":203.9,"r":19.7,"g":"10% RH"},{"t":204.3,"r":19.2,"g":"10% RH"},{"t":205,"r":18.6,"g":"10% RH"},{"t":205.6,"r":18.1,"g":"10% RH"},{"t":206.4,"r":17.7,"g":"10% RH"},{"t":207.3,"r":17.3,"g":"10% RH"},{"t":208,"r":16.9,"g":"10% RH"},{"t":208.6,"r":16.6,"g":"10% RH"},{"t":209.3,"r":16.3,"g":"10% RH"},{"t":209.9,"r":16.1,"g":"10% RH"},{"t":210.7,"r":15.95,"g":"10% RH"},{"t":211.6,"r":15.8,"g":"10% RH"},{"t":212.9,"r":18.3,"g":"10% RH"},{"t":213,"r":20.5,"g":"10% RH"},
{"t":0.3,"r":17.8,"g":"30% RH"},{"t":1.2,"r":17.8,"g":"30% RH"},{"t":2,"r":16.3,"g":"30% RH"},{"t":2.4,"r":15.7,"g":"30% RH"},{"t":2.6,"r":14.9,"g":"30% RH"},{"t":3.2,"r":14.3,"g":"30% RH"},{"t":3.9,"r":13.9,"g":"30% RH"},{"t":4.6,"r":13.6,"g":"30% RH"},{"t":5.3,"r":13.45,"g":"30% RH"},{"t":6,"r":13.3,"g":"30% RH"},{"t":7.1,"r":13.2,"g":"30% RH"},{"t":8.2,"r":13.1,"g":"30% RH"},{"t":9.3,"r":13.05,"g":"30% RH"},{"t":10.3,"r":13,"g":"30% RH"},{"t":11.4,"r":12.95,"g":"30% RH"},{"t":12.5,"r":12.9,"g":"30% RH"},
{"t":12.8,"r":13.6,"g":"30% RH"},{"t":13.4,"r":14.5,"g":"30% RH"},{"t":13.8,"r":15.3,"g":"30% RH"},{"t":14.6,"r":15.7,"g":"30% RH"},{"t":15.5,"r":16,"g":"30% RH"},{"t":16.5,"r":16.2,"g":"30% RH"},{"t":17.5,"r":16.4,"g":"30% RH"},{"t":18.5,"r":16.55,"g":"30% RH"},{"t":19.5,"r":16.7,"g":"30% RH"},{"t":20.5,"r":16.85,"g":"30% RH"},{"t":21.5,"r":16.95,"g":"30% RH"},{"t":22.5,"r":17,"g":"30% RH"},{"t":23.5,"r":17.05,"g":"30% RH"},{"t":24.5,"r":17.1,"g":"30% RH"},{"t":25.5,"r":17.1,"g":"30% RH"},{"t":26.5,"r":17.12,"g":"30% RH"},{"t":27.5,"r":17.15,"g":"30% RH"},{"t":28.5,"r":17.17,"g":"30% RH"},{"t":29.5,"r":17.2,"g":"30% RH"},{"t":30.5,"r":17.2,"g":"30% RH"},{"t":31.5,"r":17.22,"g":"30% RH"},{"t":32.5,"r":17.25,"g":"30% RH"},{"t":33.5,"r":17.25,"g":"30% RH"},{"t":34.5,"r":17.28,"g":"30% RH"},{"t":35.5,"r":17.3,"g":"30% RH"},{"t":36.5,"r":17.3,"g":"30% RH"},{"t":37.5,"r":17.32,"g":"30% RH"},{"t":38.5,"r":17.35,"g":"30% RH"},{"t":39.5,"r":17.35,"g":"30% RH"},{"t":40.5,"r":17.38,"g":"30% RH"},{"t":41.5,"r":17.4,"g":"30% RH"},
{"t":42.6,"r":16.1,"g":"30% RH"},{"t":42.7,"r":15.4,"g":"30% RH"},{"t":42.8,"r":14.7,"g":"30% RH"},{"t":43.5,"r":14.1,"g":"30% RH"},{"t":44.2,"r":13.75,"g":"30% RH"},{"t":44.8,"r":13.5,"g":"30% RH"},{"t":45.9,"r":13.25,"g":"30% RH"},{"t":47,"r":13.1,"g":"30% RH"},{"t":48,"r":13,"g":"30% RH"},{"t":49.1,"r":12.9,"g":"30% RH"},{"t":50.2,"r":12.8,"g":"30% RH"},{"t":51.3,"r":12.7,"g":"30% RH"},
{"t":51.8,"r":13.2,"g":"30% RH"},{"t":52.2,"r":13.6,"g":"30% RH"},{"t":52.6,"r":14.5,"g":"30% RH"},{"t":53.4,"r":15.2,"g":"30% RH"},{"t":54.7,"r":15.7,"g":"30% RH"},{"t":55.8,"r":15.95,"g":"30% RH"},{"t":56.9,"r":16.1,"g":"30% RH"},{"t":57.9,"r":16.3,"g":"30% RH"},{"t":58.9,"r":16.45,"g":"30% RH"},{"t":59.9,"r":16.6,"g":"30% RH"},{"t":61,"r":16.7,"g":"30% RH"},{"t":62.2,"r":16.8,"g":"30% RH"},{"t":63.4,"r":16.9,"g":"30% RH"},{"t":64.5,"r":16.95,"g":"30% RH"},{"t":65.6,"r":17,"g":"30% RH"},{"t":66.6,"r":17.05,"g":"30% RH"},{"t":67.7,"r":17.1,"g":"30% RH"},{"t":68.7,"r":17.12,"g":"30% RH"},{"t":69.7,"r":17.14,"g":"30% RH"},{"t":70.7,"r":17.15,"g":"30% RH"},{"t":71.7,"r":17.17,"g":"30% RH"},{"t":72.7,"r":17.19,"g":"30% RH"},{"t":73.7,"r":17.2,"g":"30% RH"},{"t":74.7,"r":17.2,"g":"30% RH"},{"t":75.7,"r":17.2,"g":"30% RH"},{"t":76.7,"r":17.22,"g":"30% RH"},{"t":77.7,"r":17.23,"g":"30% RH"},{"t":78.7,"r":17.24,"g":"30% RH"},{"t":79.7,"r":17.25,"g":"30% RH"},{"t":80.7,"r":17.25,"g":"30% RH"},{"t":81.5,"r":17.22,"g":"30% RH"},{"t":82.3,"r":17.2,"g":"30% RH"},
{"t":82.5,"r":16.2,"g":"30% RH"},{"t":82.7,"r":15.3,"g":"30% RH"},{"t":82.9,"r":14.7,"g":"30% RH"},{"t":83.3,"r":14.1,"g":"30% RH"},{"t":84,"r":13.5,"g":"30% RH"},{"t":84.9,"r":13.25,"g":"30% RH"},{"t":85.8,"r":13.1,"g":"30% RH"},{"t":86.8,"r":13,"g":"30% RH"},{"t":87.9,"r":12.9,"g":"30% RH"},{"t":88.7,"r":12.85,"g":"30% RH"},{"t":89.5,"r":12.8,"g":"30% RH"},{"t":90.2,"r":12.75,"g":"30% RH"},{"t":90.9,"r":12.7,"g":"30% RH"},{"t":91.6,"r":12.8,"g":"30% RH"},{"t":92.2,"r":12.9,"g":"30% RH"},
{"t":92.6,"r":13.5,"g":"30% RH"},{"t":93.1,"r":14.1,"g":"30% RH"},{"t":93.5,"r":14.9,"g":"30% RH"},{"t":94.3,"r":15.3,"g":"30% RH"},{"t":95.3,"r":15.5,"g":"30% RH"},{"t":96.5,"r":15.7,"g":"30% RH"},{"t":97.8,"r":15.9,"g":"30% RH"},{"t":99.3,"r":16,"g":"30% RH"},{"t":100.9,"r":16.1,"g":"30% RH"},{"t":102,"r":16.15,"g":"30% RH"},{"t":103,"r":16.2,"g":"30% RH"},{"t":104.1,"r":16.25,"g":"30% RH"},{"t":105.2,"r":16.3,"g":"30% RH"},{"t":106.2,"r":16.35,"g":"30% RH"},{"t":107.2,"r":16.42,"g":"30% RH"},{"t":108.2,"r":16.48,"g":"30% RH"},{"t":109.3,"r":16.54,"g":"30% RH"},{"t":110.3,"r":16.58,"g":"30% RH"},{"t":111.3,"r":16.6,"g":"30% RH"},{"t":112.3,"r":16.62,"g":"30% RH"},{"t":113.3,"r":16.65,"g":"30% RH"},{"t":114.3,"r":16.67,"g":"30% RH"},{"t":115.3,"r":16.68,"g":"30% RH"},{"t":116.3,"r":16.7,"g":"30% RH"},{"t":117.3,"r":16.72,"g":"30% RH"},{"t":118.3,"r":16.76,"g":"30% RH"},{"t":119.3,"r":16.8,"g":"30% RH"},{"t":120.3,"r":16.85,"g":"30% RH"},{"t":121.1,"r":16.9,"g":"30% RH"},{"t":122,"r":17,"g":"30% RH"},
{"t":122.4,"r":16.1,"g":"30% RH"},{"t":122.6,"r":15.3,"g":"30% RH"},{"t":122.8,"r":14.7,"g":"30% RH"},{"t":123.3,"r":14.4,"g":"30% RH"},{"t":123.7,"r":14.2,"g":"30% RH"},{"t":124.5,"r":14.05,"g":"30% RH"},{"t":125.4,"r":13.9,"g":"30% RH"},{"t":126.5,"r":13.85,"g":"30% RH"},{"t":127.6,"r":13.8,"g":"30% RH"},{"t":128.6,"r":13.75,"g":"30% RH"},{"t":129.7,"r":13.7,"g":"30% RH"},{"t":130.5,"r":13.7,"g":"30% RH"},{"t":131.2,"r":13.75,"g":"30% RH"},{"t":131.8,"r":14,"g":"30% RH"},
{"t":132.3,"r":14.3,"g":"30% RH"},{"t":133.2,"r":14.9,"g":"30% RH"},{"t":134.1,"r":15.5,"g":"30% RH"},{"t":134.7,"r":15.8,"g":"30% RH"},{"t":135.3,"r":16.1,"g":"30% RH"},{"t":136.4,"r":16.3,"g":"30% RH"},{"t":137.5,"r":16.5,"g":"30% RH"},{"t":138.7,"r":16.58,"g":"30% RH"},{"t":139.9,"r":16.63,"g":"30% RH"},{"t":141,"r":16.7,"g":"30% RH"},{"t":142.1,"r":16.75,"g":"30% RH"},{"t":143.2,"r":16.8,"g":"30% RH"},{"t":144.3,"r":16.85,"g":"30% RH"},{"t":145.3,"r":16.9,"g":"30% RH"},{"t":146.3,"r":16.93,"g":"30% RH"},{"t":147.3,"r":16.95,"g":"30% RH"},{"t":148.3,"r":16.97,"g":"30% RH"},{"t":149.3,"r":16.98,"g":"30% RH"},{"t":150.3,"r":17,"g":"30% RH"},{"t":151.3,"r":17,"g":"30% RH"},{"t":152.4,"r":17,"g":"30% RH"},{"t":153.5,"r":17,"g":"30% RH"},{"t":154.6,"r":17.02,"g":"30% RH"},{"t":155.7,"r":17.03,"g":"30% RH"},{"t":156.9,"r":17.04,"g":"30% RH"},{"t":158,"r":17.05,"g":"30% RH"},{"t":159,"r":17.07,"g":"30% RH"},{"t":160.1,"r":17.08,"g":"30% RH"},{"t":161.2,"r":17.1,"g":"30% RH"},{"t":162.2,"r":17.1,"g":"30% RH"},
{"t":162.6,"r":16.5,"g":"30% RH"},{"t":162.9,"r":15.7,"g":"30% RH"},{"t":163.4,"r":15.2,"g":"30% RH"},{"t":164.2,"r":14.6,"g":"30% RH"},{"t":164.8,"r":14.45,"g":"30% RH"},{"t":165.5,"r":14.3,"g":"30% RH"},{"t":166.6,"r":14.25,"g":"30% RH"},{"t":167.7,"r":14.2,"g":"30% RH"},{"t":168.7,"r":14.15,"g":"30% RH"},{"t":169.8,"r":14.1,"g":"30% RH"},{"t":170.7,"r":14.15,"g":"30% RH"},{"t":171.5,"r":14.25,"g":"30% RH"},
{"t":172.3,"r":14.5,"g":"30% RH"},{"t":172.8,"r":14.9,"g":"30% RH"},{"t":173.4,"r":15.2,"g":"30% RH"},{"t":174.1,"r":15.5,"g":"30% RH"},{"t":175.2,"r":15.75,"g":"30% RH"},{"t":176.3,"r":16,"g":"30% RH"},{"t":177.4,"r":16.2,"g":"30% RH"},{"t":178.5,"r":16.35,"g":"30% RH"},{"t":179.7,"r":16.5,"g":"30% RH"},{"t":180.7,"r":16.55,"g":"30% RH"},{"t":181.7,"r":16.6,"g":"30% RH"},{"t":182.7,"r":16.62,"g":"30% RH"},{"t":183.7,"r":16.65,"g":"30% RH"},{"t":184.8,"r":16.68,"g":"30% RH"},{"t":185.8,"r":16.7,"g":"30% RH"},{"t":186.9,"r":16.76,"g":"30% RH"},{"t":188,"r":16.82,"g":"30% RH"},{"t":189.1,"r":16.88,"g":"30% RH"},{"t":190.2,"r":16.94,"g":"30% RH"},{"t":191.4,"r":17,"g":"30% RH"},{"t":192.5,"r":17.02,"g":"30% RH"},{"t":193.6,"r":17.04,"g":"30% RH"},{"t":194.7,"r":17.06,"g":"30% RH"},{"t":195.9,"r":17.08,"g":"30% RH"},{"t":197,"r":17.1,"g":"30% RH"},{"t":198.1,"r":17.13,"g":"30% RH"},{"t":199.2,"r":17.16,"g":"30% RH"},{"t":200.3,"r":17.18,"g":"30% RH"},{"t":201.3,"r":17.2,"g":"30% RH"},{"t":202.2,"r":17.18,"g":"30% RH"},{"t":203,"r":17.1,"g":"30% RH"},{"t":203.6,"r":16.8,"g":"30% RH"},{"t":204.3,"r":16.4,"g":"30% RH"},{"t":205.3,"r":16.25,"g":"30% RH"},{"t":206.3,"r":16.1,"g":"30% RH"},{"t":207.3,"r":16,"g":"30% RH"},{"t":208.2,"r":15.92,"g":"30% RH"},{"t":209,"r":15.85,"g":"30% RH"},{"t":209.9,"r":15.8,"g":"30% RH"},{"t":211,"r":15.75,"g":"30% RH"},{"t":212.1,"r":15.7,"g":"30% RH"},{"t":212.9,"r":16.5,"g":"30% RH"},{"t":213,"r":17,"g":"30% RH"}
]
},
"hconcat": [
{
"width": 520, "height": 424,
"title": {"text": "(a)", "orient": "bottom", "fontSize": 26, "fontWeight": "normal", "font": "Liberation Sans", "color": "#111", "offset": 9},
"layer": [
{"data": {"name": "a"},
 "mark": {"type": "circle", "size": 28, "opacity": 1, "strokeWidth": 0.6},
 "encoding": {
  "x": {"field": "t", "type": "quantitative", "scale": {"domain": [0, 225], "nice": false, "zero": false},
        "axis": {"title": "Time (min)", "values": [0,25,50,75,100,125,150,175,200,225], "labelExpr": "datum.value % 50 === 0 ? datum.label : ''", "tickSize": {"condition": {"test": "datum.value % 50 === 0", "value": 8}, "value": 4}, "labelPadding": 4, "titlePadding": 13, "format": "d"}},
  "y": {"field": "r", "type": "quantitative", "scale": {"type": "log", "domain": [140, 900], "nice": false},
        "axis": {"title": "Resistence (MΩ)", "values": [150,160,170,180,190,200,210,220,230,240,250,260,270,280,290,300,310,320,330,340,350,360,370,380,390,400,410,420,430,440,450,460,470,480,490,500,510,520,530,540,550,560,570,580,590,600,610,620,630,640,650,660,670,680,690,700,710,720,730,740,750,760,770,780,790,800,810,820,830,840,850,860,870,880,890,900], "labelExpr": "datum.value % 100 === 0 && datum.value >= 200 ? datum.label : ''", "tickSize": {"condition": {"test": "datum.value % 100 === 0", "value": 8}, "value": 4}, "labelPadding": 4, "titlePadding": 8, "format": "d"}},
  "color": {"field": "g", "type": "nominal", "scale": {"domain": ["10% RH", "30% RH"], "range": ["#151515", "#e2211f"]}, "legend": {"title": null}},
  "stroke": {"field": "g", "type": "nominal", "scale": {"domain": ["10% RH", "30% RH"], "range": ["#000000", "#941212"]}, "legend": null}
 }},
{"data": {"values": [{"t": 11, "t2": 91, "r": 162.7}]},
 "mark": {"type": "rule", "color": "#333", "strokeWidth": 1.5},
 "encoding": {"x": {"field": "t", "type": "quantitative"}, "x2": {"field": "t2"}, "y": {"field": "r", "type": "quantitative"}}},
{"data": {"values": [{"t": 132.7, "r": 242, "label": "10 ppm"}, {"t": 173, "r": 295, "label": "5 ppm"}, {"t": 212.5, "r": 527, "label": "1 ppm"}, {"t": 49.6, "r": 152.6, "label": "20 ppm"}]},
 "mark": {"type": "text", "fontSize": 22, "font": "Liberation Sans", "color": "#222", "align": "center", "baseline": "middle"},
 "encoding": {"x": {"field": "t", "type": "quantitative"}, "y": {"field": "r", "type": "quantitative"}, "text": {"field": "label"}}},
{"data": {"values": [{"t": 14.1, "r": 930, "label": "BaSnO"}]},
 "mark": {"type": "text", "fontSize": 22, "font": "Liberation Sans", "color": "#222", "align": "left", "baseline": "middle"},
 "encoding": {"x": {"field": "t", "type": "quantitative"}, "y": {"field": "r", "type": "quantitative"}, "text": {"field": "label"}}},
{"data": {"values": [{"t": 45, "r": 885, "label": "3"}]},
 "mark": {"type": "text", "fontSize": 15, "font": "Liberation Sans", "color": "#222", "align": "left", "baseline": "middle"},
 "encoding": {"x": {"field": "t", "type": "quantitative"}, "y": {"field": "r", "type": "quantitative"}, "text": {"field": "label"}}}
]
},
{
"width": 522, "height": 424,
"title": {"text": "(b)", "orient": "bottom", "fontSize": 26, "fontWeight": "normal", "font": "Liberation Sans", "color": "#111", "offset": 9},
"layer": [
{"data": {"name": "b"},
 "mark": {"type": "circle", "size": 28, "opacity": 1, "strokeWidth": 0.6},
 "encoding": {
  "x": {"field": "t", "type": "quantitative", "scale": {"domain": [0, 225], "nice": false, "zero": false},
        "axis": {"title": "Time (min)", "values": [0,25,50,75,100,125,150,175,200,225], "labelExpr": "datum.value % 50 === 0 ? datum.label : ''", "tickSize": {"condition": {"test": "datum.value % 50 === 0", "value": 8}, "value": 4}, "labelPadding": 4, "titlePadding": 13, "format": "d"}},
  "y": {"field": "r", "type": "quantitative", "scale": {"type": "log", "domain": [5, 30], "nice": false},
        "axis": {"title": "Resistence (MΩ)", "values": [5,5.5,6,6.5,7,7.5,8,8.5,9,9.5,10,10.5,11,11.5,12,12.5,13,13.5,14,14.5,15,15.5,16,16.5,17,17.5,18,18.5,19,19.5,20,20.5,21,21.5,22,22.5,23,23.5,24,24.5,25,25.5,26,26.5,27,27.5,28,28.5,29,29.5,30], "labelExpr": "datum.value % 5 === 0 ? datum.label : ''", "tickSize": {"condition": {"test": "datum.value % 5 === 0", "value": 8}, "value": 4}, "labelPadding": 4, "titlePadding": 8, "format": "d"}},
  "color": {"field": "g", "type": "nominal", "scale": {"domain": ["10% RH", "30% RH"], "range": ["#151515", "#e2211f"]}, "legend": {"title": null}},
  "stroke": {"field": "g", "type": "nominal", "scale": {"domain": ["10% RH", "30% RH"], "range": ["#000000", "#941212"]}, "legend": null}
 }},
{"data": {"values": [{"t": 12.9, "t2": 93.1, "r": 5.67}]},
 "mark": {"type": "rule", "color": "#333", "strokeWidth": 1.5},
 "encoding": {"x": {"field": "t", "type": "quantitative"}, "x2": {"field": "t2"}, "y": {"field": "r", "type": "quantitative"}}},
{"data": {"values": [{"t": 132.8, "r": 6.99, "label": "10 ppm"}, {"t": 173.7, "r": 8.64, "label": "5 ppm"}, {"t": 213.4, "r": 14.42, "label": "1 ppm"}, {"t": 51.3, "r": 5.31, "label": "20 ppm"}]},
 "mark": {"type": "text", "fontSize": 22, "font": "Liberation Sans", "color": "#222", "align": "center", "baseline": "middle"},
 "encoding": {"x": {"field": "t", "type": "quantitative"}, "y": {"field": "r", "type": "quantitative"}, "text": {"field": "label"}}},
{"data": {"values": [{"t": 12.5, "r": 30.6, "label": "ZnSnO"}]},
 "mark": {"type": "text", "fontSize": 22, "font": "Liberation Sans", "color": "#222", "align": "left", "baseline": "middle"},
 "encoding": {"x": {"field": "t", "type": "quantitative"}, "y": {"field": "r", "type": "quantitative"}, "text": {"field": "label"}}},
{"data": {"values": [{"t": 42.8, "r": 29.5, "label": "3"}]},
 "mark": {"type": "text", "fontSize": 15, "font": "Liberation Sans", "color": "#222", "align": "left", "baseline": "middle"},
 "encoding": {"x": {"field": "t", "type": "quantitative"}, "y": {"field": "r", "type": "quantitative"}, "text": {"field": "label"}}}
]
}
],
"resolve": {"scale": {"color": "independent", "stroke": "independent"}, "legend": {"color": "independent"}},
"config": {
 "view": {"stroke": null},
 "font": "Liberation Sans",
 "axis": {"grid": false, "domainColor": "#333", "domainWidth": 1.5, "tickColor": "#333", "tickWidth": 1.3, "labelFont": "Liberation Sans", "labelFontSize": 22, "labelColor": "#222", "titleFont": "Liberation Sans", "titleFontSize": 24, "titleFontWeight": "bold", "titleColor": "#111", "labelOverlap": false, "labelFlush": false, "labelBound": false},
 "legend": {"orient": "bottom-right", "offset": -3, "labelFont": "Liberation Sans", "labelFontSize": 22, "labelColor": "#222", "symbolSize": 140, "symbolType": "circle", "rowPadding": 5, "labelOffset": 20, "padding": 0}
}
}
